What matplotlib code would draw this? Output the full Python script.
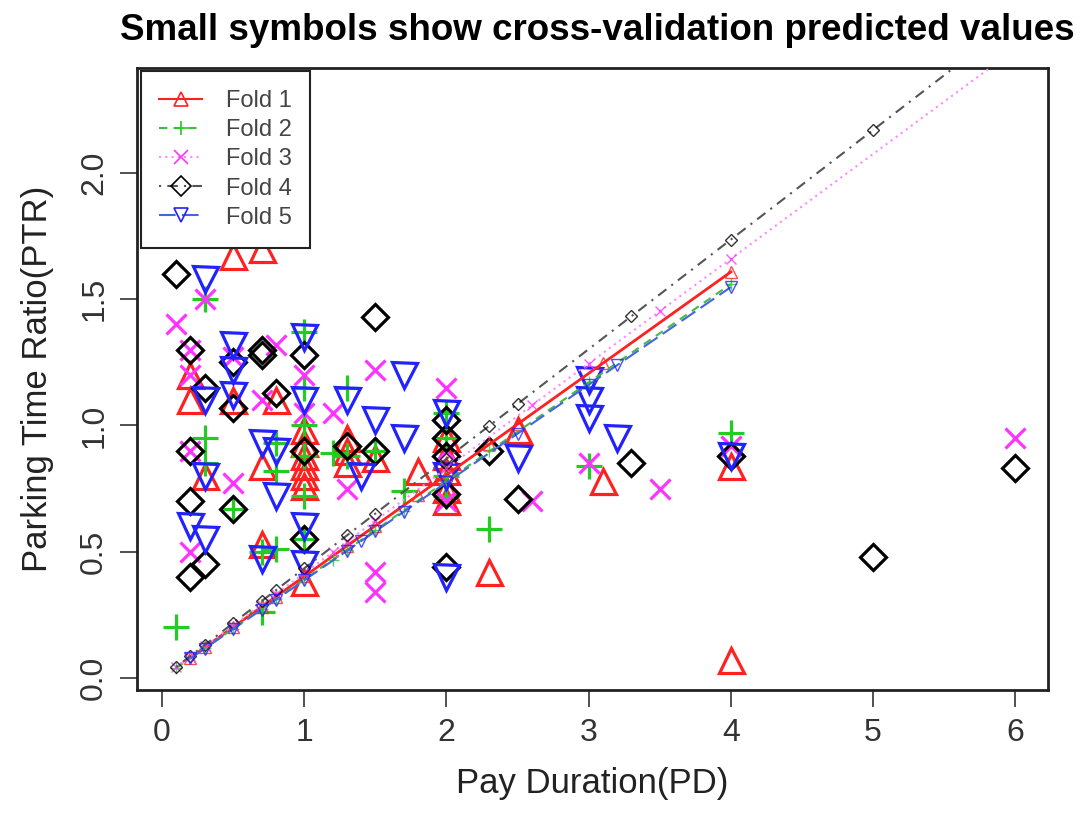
import numpy as np
import matplotlib
matplotlib.use('Agg')
import matplotlib.pyplot as plt
from matplotlib.lines import Line2D

plt.rcParams['font.family'] = ['Liberation Sans', 'DejaVu Sans']

# observed points, one pair of lists per fold
x1 = [0.2, 0.2, 0.3, 0.5, 0.5, 0.7, 0.7, 0.7, 0.8, 1, 1, 1, 1, 1, 1, 1, 1.3, 1.3, 1.3, 1.5, 1.8,
      2, 2, 2, 2, 2, 2.3, 2.5, 3.1, 4, 4]
y1 = [1.2, 1.1, 0.8, 1.67, 1.1, 1.7, 0.84, 0.53, 1.1, 0.98, 0.93, 0.88, 0.84, 0.80, 0.76, 0.38,
      0.95, 0.9, 0.85, 0.87, 0.82, 0.95, 0.88, 0.82, 0.75, 0.70, 0.42, 0.98, 0.78, 0.84, 0.07]

x2 = [0.1, 0.3, 0.3, 0.3, 0.5, 0.7, 0.7, 0.8, 0.8, 0.8, 1, 1, 1, 1, 1, 1, 1.2, 1.3, 1.3, 1.5,
      1.7, 2, 2, 2, 2, 2.3, 3, 4]
y2 = [0.2, 1.5, 0.95, 0.85, 0.67, 0.26, 0.5, 0.93, 0.82, 0.51, 1.37, 1.15, 1.0, 0.72, 0.55, 0.88,
      0.89, 1.15, 0.88, 0.9, 0.74, 1.05, 0.95, 0.80, 0.72, 0.59, 0.84, 0.97]

x3 = [0.1, 0.2, 0.2, 0.2, 0.2, 0.3, 0.5, 0.5, 0.7, 0.8, 1, 1, 1.2, 1.3, 1.5, 1.5, 1.5, 2, 2, 2,
      2.6, 3, 3.5, 4, 6]
y3 = [1.4, 1.3, 1.2, 0.9, 0.5, 1.5, 1.27, 0.77, 1.1, 1.32, 1.2, 1.05, 1.05, 0.75, 1.22, 0.42,
      0.34, 1.15, 0.9, 0.7, 0.7, 0.85, 0.75, 0.92, 0.95]

x4 = [0.1, 0.2, 0.2, 0.2, 0.2, 0.3, 0.3, 0.5, 0.5, 0.5, 0.7, 0.7, 0.8, 1, 1, 1, 1.3, 1.5, 1.5,
      2, 2, 2, 2, 2, 2.3, 2.5, 3.3, 4, 5, 6]
y4 = [1.6, 1.3, 0.9, 0.7, 0.4, 1.15, 0.45, 1.25, 1.07, 0.67, 1.3, 1.28, 1.13, 1.28, 0.9, 0.55,
      0.92, 1.43, 0.9, 1.02, 0.95, 0.88, 0.73, 0.44, 0.9, 0.71, 0.85, 0.88, 0.48, 0.83]

x5 = [0.2, 0.3, 0.3, 0.3, 0.3, 0.5, 0.5, 0.5, 0.7, 0.7, 0.8, 0.8, 1, 1, 1, 1, 1.3, 1.4, 1.5,
      1.7, 1.7, 2, 2, 2, 2.5, 3, 3, 3, 3.2, 4]
y5 = [0.6, 1.58, 1.1, 0.8, 0.55, 1.32, 1.22, 1.12, 0.93, 0.47, 0.9, 0.72, 1.35, 1.1, 0.6, 0.45,
      1.1, 0.8, 1.02, 1.2, 0.95, 1.05, 0.8, 0.4, 0.87, 1.18, 1.1, 1.03, 0.95, 0.88]

# fitted line per fold (intercept, slope)
intercepts = [0.0, 0.0, 0.0, 0.0, 0.0]
slopes = [0.402, 0.390, 0.415, 0.434, 0.387]

fold_names = ['Fold 1', 'Fold 2', 'Fold 3', 'Fold 4', 'Fold 5']
colors = ['#FF2020', '#22CC22', '#FF33FF', '#000000', '#2222FF']
markers = ['^', '+', 'x', 'D', 'v']
big_ms = [18, 19, 15, 13, 18]
small_ms = [8, 9, 7, 6, 8]
linestyles = ['-', (0, (4, 3)), (0, (1, 2)), (0, (1, 3, 5, 3)), (0, (8, 3))]
line_colors = ['#FF2020', '#44BB44', '#FF88FF', '#555555', '#4466DD']
line_w = [2.0, 1.5, 1.5, 1.5, 1.5]

xs = [x1, x2, x3, x4, x5]
ys = [y1, y2, y3, y4, y5]

fig = plt.figure(figsize=(10.84, 8.24), dpi=100)
ax = fig.add_axes([0.1264, 0.1626, 0.8404, 0.755])

for i in range(5):
    ax.plot(xs[i], ys[i], linestyle='none', marker=markers[i], ms=big_ms[i],
            mfc='none', mec=colors[i], mew=2.3, zorder=3)

for i in range(5):
    ux = np.unique(xs[i])
    pred = intercepts[i] + slopes[i] * ux
    ax.plot(ux, pred, linestyle=linestyles[i], color=line_colors[i], lw=line_w[i], zorder=4)
    ax.plot(ux, pred, linestyle='none', marker=markers[i], ms=small_ms[i],
            mfc='none', mec=colors[i], mew=1.0, alpha=0.8, zorder=4)

ax.set_xlim(-0.176, 6.23)
ax.set_ylim(-0.048, 2.416)
ax.set_xticks([0, 1, 2, 3, 4, 5, 6])
ax.set_yticks([0.0, 0.5, 1.0, 1.5, 2.0])
ax.set_yticklabels(['0.0', '0.5', '1.0', '1.5', '2.0'], rotation=90, va='center')
ax.tick_params(axis='both', direction='out', length=12, width=1.2, labelsize=23,
               colors='#333333', pad=8)
for s in ax.spines.values():
    s.set_linewidth(2.0)
    s.set_color('#222222')

ax.set_title('Small symbols show cross-validation predicted values', fontsize=26.5,
             fontweight='bold', pad=20, x=0.505)
ax.set_xlabel('Pay Duration(PD)', fontsize=25, labelpad=14, color='#222222')
ax.set_ylabel('Parking Time Ratio(PTR)', fontsize=25, labelpad=18, color='#222222')

handles = []
for i in range(5):
    handles.append(Line2D([0], [0], color=line_colors[i], linestyle=linestyles[i], lw=1.5,
                          marker=markers[i], ms=10, mfc='none', mec=colors[i], mew=1.2))
leg = ax.legend(handles, fold_names, loc='upper left', fontsize=17, frameon=True,
                fancybox=False, edgecolor='#222222', framealpha=1.0, borderaxespad=0.15,
                handlelength=1.8, handletextpad=1.0, labelspacing=0.3, borderpad=0.8)
leg.get_frame().set_linewidth(1.5)
for t in leg.get_texts():
    t.set_color('#444444')
leg.set_zorder(10)

fig.savefig('out.png', dpi=100)
